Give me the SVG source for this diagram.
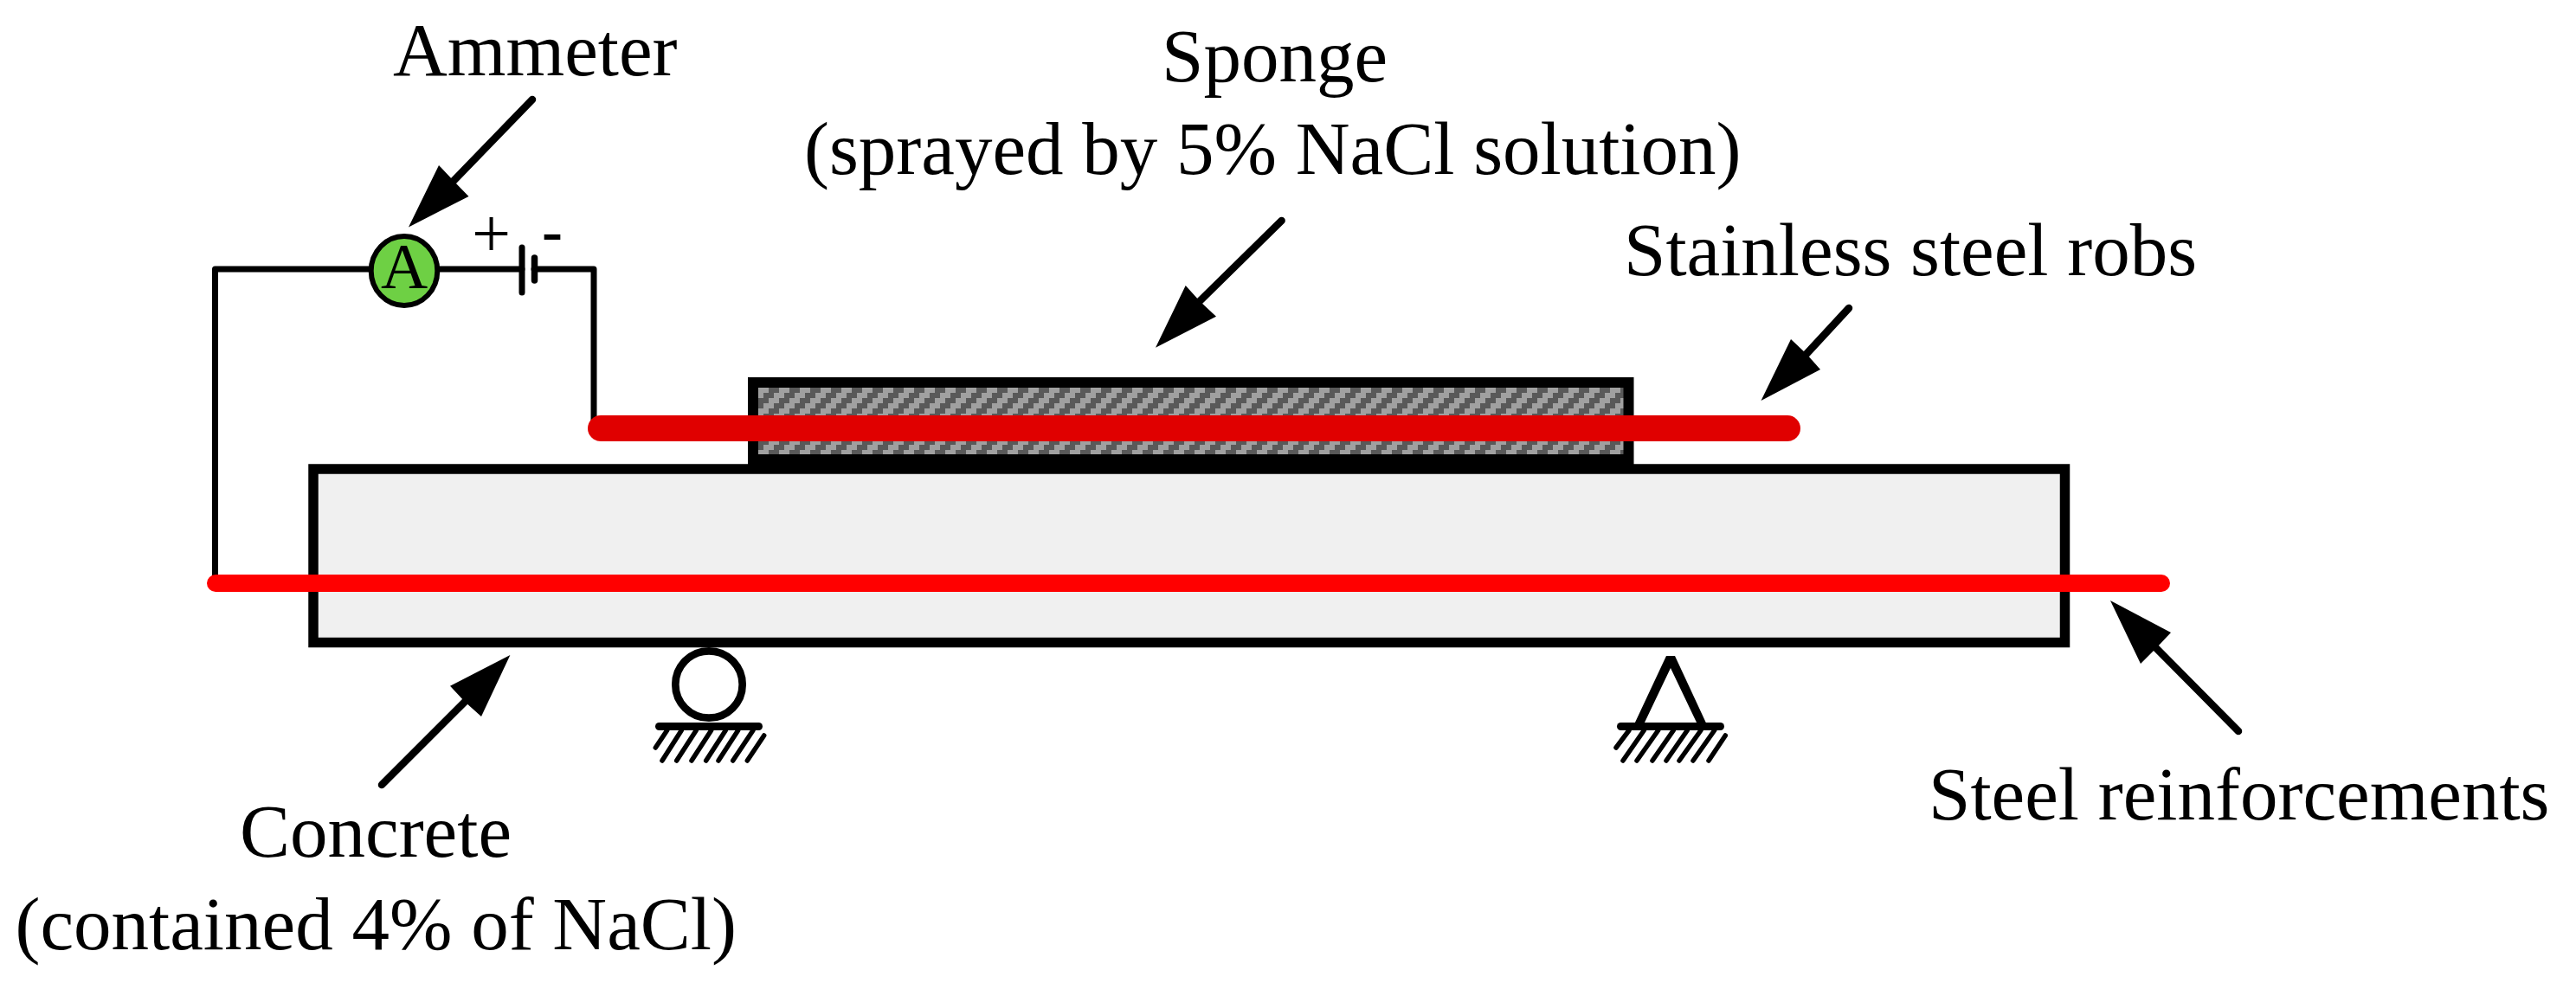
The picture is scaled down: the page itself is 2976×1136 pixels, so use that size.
<svg xmlns="http://www.w3.org/2000/svg" width="2976" height="1136" viewBox="0 0 2976 1136">
<style>
text{font-family:"Liberation Serif","Times New Roman",serif;font-size:87px;fill:#000}
.wire{fill:none;stroke:#000;stroke-width:7;stroke-linejoin:round;stroke-linecap:round}
.leader{fill:none;stroke:#000;stroke-width:8.5;stroke-linecap:round}
.head{fill:#000;stroke:none}
.bar{fill:none;stroke:#000;stroke-width:9;stroke-linecap:round}
.hatch{fill:none;stroke:#000;stroke-width:5.5;stroke-linecap:round}
.rod{fill:none;stroke-linecap:round}
</style>
<defs>
<pattern id="sponge-fill" patternUnits="userSpaceOnUse" x="876" y="448" width="24" height="24">
<rect width="24" height="24" fill="#595959" shape-rendering="crispEdges"/>
<g fill="#a0a0a0" shape-rendering="crispEdges">
<rect x="0" y="0" width="12" height="6"/>
<rect x="18" y="6" width="6" height="6"/><rect x="0" y="6" width="6" height="6"/>
<rect x="12" y="12" width="12" height="6"/>
<rect x="6" y="18" width="12" height="6"/>
</g>
</pattern>
</defs>
<rect width="2976" height="1136" fill="#fff"/>
<g id="connectors">
<path class="wire" d="M248.5 674V311H430M504 311H603M617 311H686V495"/>
<path class="leader" d="M615 115L524 209"/>
<polygon class="head" points="472,262.5 507,191 524,209 541.5,227"/>
<path class="leader" d="M1480.6 255L1386 348"/>
<polygon class="head" points="1335,401.7 1369.7,330 1386,348 1405,365.7"/>
<path class="leader" d="M2136 356L2087 409"/>
<polygon class="head" points="2034.5,463 2069,392 2087,409 2103,427"/>
<path class="leader" d="M441 907L537 811"/>
<polygon class="head" points="589.4,757 520,792.7 537,811 556,828"/>
<path class="leader" d="M2586 845L2491 749"/>
<polygon class="head" points="2438,694 2508,731 2491,749 2473,767"/>
</g>
<g id="concrete">
<rect x="362" y="542" width="2023.5" height="200.5" fill="#f0f0f0" stroke="#000" stroke-width="11.5"/>
</g>
<g id="sponge">
<rect x="870" y="442" width="1011.5" height="89" fill="url(#sponge-fill)" stroke="#000" stroke-width="12"/>
</g>
<g id="stainless-rod"><path class="rod" d="M694 495H2065" stroke="#e00000" stroke-width="30"/></g>
<g id="steel-reinforcement"><path class="rod" d="M249 674H2497" stroke="#ff0000" stroke-width="20"/></g>
<g id="ammeter">
<ellipse cx="467" cy="313" rx="38.3" ry="40" fill="#6ed044" stroke="#000" stroke-width="6"/>
<text x="440" y="333" style="font-size:75px">A</text>
</g>
<g id="battery">
<path class="wire" d="M603 286V338"/>
<path d="M617.5 298V324" fill="none" stroke="#000" stroke-width="7.5" stroke-linecap="round"/>
<text x="545" y="297" style="font-size:80px">+</text>
<text x="626" y="291" style="font-size:72px;font-weight:bold">-</text>
</g>
<g id="roller-support">
<circle cx="819" cy="791" r="38.7" fill="#fff" stroke="#000" stroke-width="8.7"/>
<path class="bar" d="M761.5 839.5H876.5"/>
<path class="hatch" d="M757.3 864L770.7 844M765 879L787.3 844M781.7 879L804.3 844M799 879L821.7 844M815.7 879L838.3 844M830 879L852.7 844M846.7 879L870 844M863.3 879L882.7 850"/>
</g>
<g id="pin-support">
<polygon class="head" points="1888,837 1925,758 1935,758 1971.7,837 1961,837 1930,772 1899,837"/>
<path class="bar" d="M1872.5 839.5H1987.5"/>
<path class="hatch" d="M1867 864L1882 844M1875 879L1899.3 844M1891 879L1915.7 844M1909 879L1933.3 844M1925 879L1949.3 844M1940 879L1965 844M1956 879L1980.7 844M1974 879L1993.3 850"/>
</g>
<g id="labels">
<text x="454" y="87">Ammeter</text>
<text x="1342" y="94">Sponge</text>
<text x="929" y="201">(sprayed by 5% NaCl solution)</text>
<text x="1876" y="318">Stainless steel robs</text>
<text x="2228" y="947">Steel reinforcements</text>
<text x="277" y="990">Concrete</text>
<text x="17.5" y="1097">(contained 4% of NaCl)</text>
</g>
</svg>
